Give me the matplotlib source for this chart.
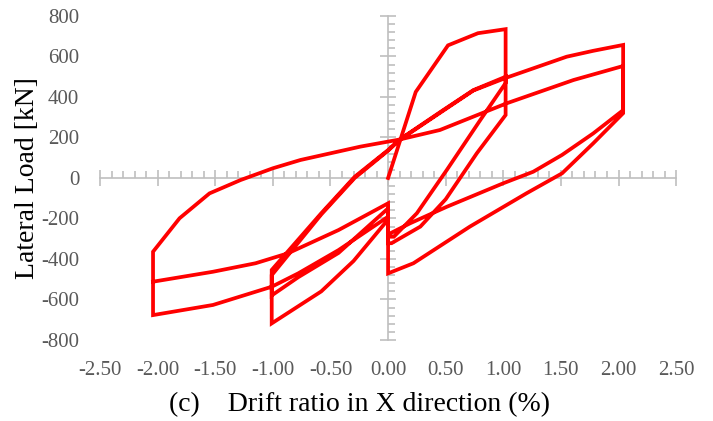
import matplotlib.pyplot as plt
from matplotlib.ticker import MultipleLocator, FormatStrFormatter

plt.rcParams['font.family'] = ['Liberation Serif', 'DejaVu Serif']
plt.rcParams['axes.unicode_minus'] = False

# Hysteresis path: drift ratio (%) and lateral load (kN), in loading order
# cycle at +/-1 %, first excursion
drift_c1 = [0.00, 0.24, 0.52, 0.78, 1.02, 1.02, 0.77, 0.50, 0.28, 0.03,
            0.00, 0.00, -0.30, -0.58, -1.01, -1.01]
load_c1 = [0, 425, 655, 715, 735, 311, 122, -105, -240, -322,
           -322, -205, -410, -560, -718, -454]

# cycle at +/-1 %, repeated
drift_c2 = [-0.58, -0.29, 0.00, 0.10, 0.48, 0.74, 1.02, 1.02, 0.80, 0.51,
            0.25, 0.05, 0.00, 0.00, -0.43, -0.78, -1.01, -1.01]
load_c2 = [-174, 6, 138, 190, 336, 434, 500, 469, 286, 40,
           -174, -290, -290, -150, -370, -490, -580, -480]

# reload and cycles at +/-2 %
drift_c3 = [-0.58, -0.29, 0.00, 0.10, 0.48, 0.74, 1.02, 1.55, 1.78, 2.04,
            2.04, 1.78, 1.51, 1.20, 0.71, 0.22, 0.00, 0.00, -0.43, -0.78,
            -1.01, -1.52, -2.04, -2.04, -1.81, -1.55, -1.28, -1.00, -0.76,
            -0.24, 0.10, 0.45, 1.03, 1.61, 2.04, 2.04, 1.78, 1.51, 1.26,
            1.00, 0.51, 0.19, 0.02, 0.00, 0.00, -0.43, -0.87, -1.15, -1.52,
            -2.04]
load_c3 = [-180, 0, 135, 188, 333, 432, 494, 599, 628, 657,
           320, 171, 23, -76, -240, -421, -471, -191, -356, -471,
           -537, -627, -677, -364, -199, -76, -10, 48, 89,
           155, 190, 237, 369, 484, 553, 335, 220, 114, 31,
           -26, -142, -224, -273, -273, -125, -257, -372, -421, -463,
           -512]

drift = drift_c1 + drift_c2 + drift_c3
load = load_c1 + load_c2 + load_c3

fig = plt.figure(figsize=(7.13, 4.21), dpi=100)
ax = fig.add_axes([0.1403, 0.1924, 0.808, 0.7696])

ax.plot(drift, load, color='#ff0000', linewidth=2.7, solid_joinstyle='miter')

ax.set_xlim(-2.5, 2.5)
ax.set_ylim(-800, 800)
ax.xaxis.set_major_locator(MultipleLocator(0.5))
ax.yaxis.set_major_locator(MultipleLocator(200))
ax.xaxis.set_major_formatter(FormatStrFormatter('%.2f'))
for s in ax.spines.values():
    s.set_visible(False)
ax.tick_params(which='both', length=0, labelsize=15, labelcolor='#595959')
ax.tick_params(axis='x', pad=15)
ax.tick_params(axis='y', pad=15)

# axis lines crossing at the origin
gray = '#bfbfbf'
secx = ax.secondary_xaxis(0.5)
secy = ax.secondary_yaxis(0.5)
secx.xaxis.set_major_locator(MultipleLocator(0.5))
secx.xaxis.set_minor_locator(MultipleLocator(0.1))
secy.yaxis.set_major_locator(MultipleLocator(200))
secy.yaxis.set_minor_locator(MultipleLocator(40))
for sec in (secx, secy):
    for s in sec.spines.values():
        s.set_color(gray)
        s.set_linewidth(1.2)
    sec.tick_params(which='major', direction='inout', length=11, width=1.2,
                    color=gray, labeltop=False, labelbottom=False,
                    labelleft=False, labelright=False)
    sec.tick_params(which='minor', direction='out', length=5, width=1.2,
                    color=gray, labeltop=False, labelbottom=False,
                    labelleft=False, labelright=False)

ax.set_ylabel('Lateral Load [kN]', fontsize=20, color='black')
ax.yaxis.set_label_coords(-0.104, 0.5)
ax.set_xlabel('(c)    Drift ratio in X direction (%)', fontsize=20, color='black')
ax.xaxis.set_label_coords(0.45, -0.16)

fig.savefig('out.png', dpi=100)
